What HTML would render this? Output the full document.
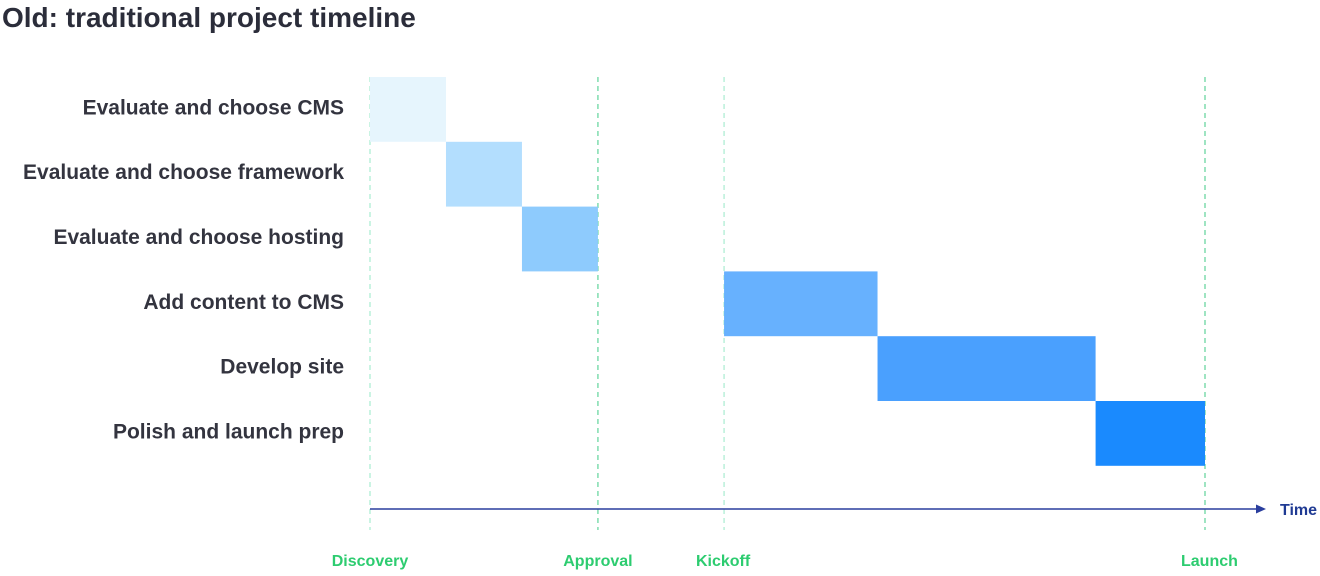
<!DOCTYPE html>
<html><head><meta charset="utf-8"><style>
html,body{margin:0;padding:0;background:#fff;}
body{width:1320px;height:571px;overflow:hidden;font-family:"Liberation Sans",sans-serif;}
</style></head><body>
<svg width="1320" height="571" xmlns="http://www.w3.org/2000/svg">
<text x="2" y="27" font-size="28" font-weight="bold" fill="#2b2d3a">Old: traditional project timeline</text>
<g id="grid"></g><g id="bars"></g><g id="labels"></g>
<line x1="370" y1="509" x2="1258" y2="509" stroke="#2a3e9e" stroke-width="1.5"/>
<polygon points="1266,509 1256,504.5 1256,513.5" fill="#2a3e9e"/>
<text x="1280" y="515" font-size="16" font-weight="bold" fill="#1f3a93">Time</text>
<g id="milestones"></g>
</svg>
<script>
const tasks=["Evaluate and choose CMS","Evaluate and choose framework","Evaluate and choose hosting","Add content to CMS","Develop site","Polish and launch prep"];
const starts=[0,10,20,46.6,66.8,95.5];
const ends=[10,20,30,66.8,95.5,109.9];
const colors=["#e6f5fd","#b3defe","#8ecbfd","#67b1fe","#4aa0fe","#1a8afe"];
const milestoneNames=["Discovery","Approval","Kickoff","Launch"];
const milestoneTimes=[0,30,46.6,109.9];
const NS="http://www.w3.org/2000/svg";
const x=t=>370+t*(835/109.9);
const rowH=64.8, top0=77;
const y=i=>top0+i*rowH;
const bars=document.getElementById('bars'),labels=document.getElementById('labels'),grid=document.getElementById('grid'),ms=document.getElementById('milestones');
milestoneTimes.forEach((t,i)=>{
  const l=document.createElementNS(NS,'line');
  
  
  l.setAttribute('x1',x(t));l.setAttribute('x2',x(t));l.setAttribute('y1',77);l.setAttribute('y2',530);
  l.setAttribute('stroke',(i==1||i==3)?'#5fd39a':'#a8ecd0');l.setAttribute('stroke-dasharray','5,4');l.setAttribute('stroke-width','1.2');
  grid.appendChild(l);
  const tx=document.createElementNS(NS,'text');
  
  
  tx.setAttribute('x',x(t));tx.setAttribute('y',566);tx.setAttribute('text-anchor',i==0?'middle':(i==3?'start':'middle'));
  if(i==3)tx.setAttribute('x',x(t)-24);
  if(i==2)tx.setAttribute('x',x(t)-1);
  tx.setAttribute('font-size','16');tx.setAttribute('font-weight','bold');tx.setAttribute('fill','#2dcc70');
  tx.textContent=milestoneNames[i];ms.appendChild(tx);
});
tasks.forEach((name,i)=>{
  const r=document.createElementNS(NS,'rect');
  
  
  r.setAttribute('x',x(starts[i]));r.setAttribute('width',x(ends[i])-x(starts[i]));
  r.setAttribute('y',y(i));r.setAttribute('height',rowH);r.setAttribute('fill',colors[i]);
  bars.appendChild(r);
  const t=document.createElementNS(NS,'text');
  
  
  t.setAttribute('x',344);t.setAttribute('y',y(i)+rowH/2+5);t.setAttribute('text-anchor','end');
  t.setAttribute('font-size','21');t.setAttribute('font-weight','bold');t.setAttribute('fill','#33343f');
  t.textContent=name;labels.appendChild(t);
});
</script>
</body></html>
